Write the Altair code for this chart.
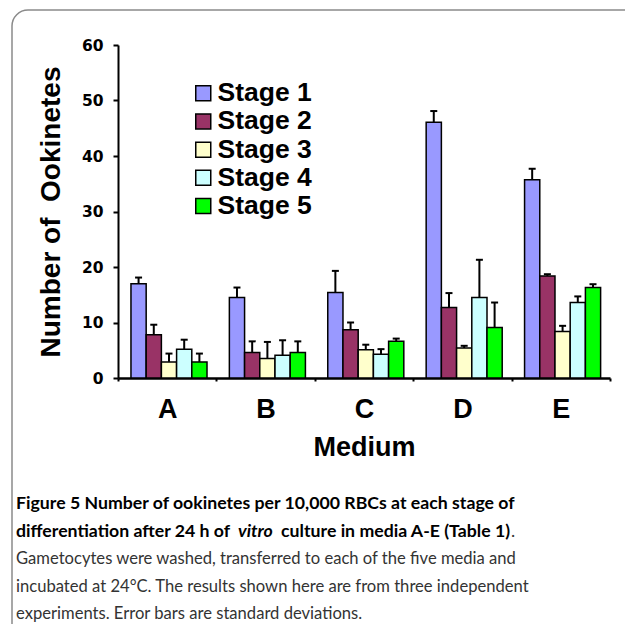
import altair as alt
import pandas as pd

media = ["A", "B", "C", "D", "E"]
stages = ["Stage 1", "Stage 2", "Stage 3", "Stage 4", "Stage 5"]
colors = ["#9999FF", "#993366", "#FFFFCC", "#CCFFFF", "#00FF00"]

stage1 = [17.0, 14.5, 15.4, 46.1, 35.7]
stage2 = [7.8, 4.6, 8.7, 12.7, 18.4]
stage3 = [2.9, 3.5, 5.1, 5.4, 8.4]
stage4 = [5.2, 4.1, 4.3, 14.5, 13.6]
stage5 = [2.9, 4.6, 6.6, 9.1, 16.3]

sd1 = [1.1, 1.8, 3.9, 2.0, 2.0]
sd2 = [1.8, 2.0, 1.3, 2.6, 0.3]
sd3 = [1.5, 3.0, 0.9, 0.4, 1.0]
sd4 = [1.7, 2.7, 0.9, 6.8, 1.1]
sd5 = [1.5, 2.0, 0.5, 4.5, 0.6]

caption_bold_1 = "Figure 5 Number of ookinetes per 10,000 RBCs at each stage of"
caption_bold_2a = "differentiation after 24 h of"
caption_bold_2b = "vitro"
caption_bold_2c = "culture in media A-E (Table 1)"
caption_plain_2d = "."
caption_plain = [
    "Gametocytes were washed, transferred to each of the five media and",
    "incubated at 24°C. The results shown here are from three independent",
    "experiments. Error bars are standard deviations.",
]

means = [stage1, stage2, stage3, stage4, stage5]
sds = [sd1, sd2, sd3, sd4, sd5]
rows = []
for s, m_list, sd_list in zip(stages, means, sds):
    for med, m, sd in zip(media, m_list, sd_list):
        rows.append({"Medium": med, "Stage": s, "Mean": m, "SD": sd})
df = pd.DataFrame(rows)

W, H = 492, 333

x_enc = alt.X(
    "Medium:N",
    sort=media,
    scale=alt.Scale(paddingInner=0, paddingOuter=0),
    axis=alt.Axis(
        title="Medium",
        titleFont="Liberation Sans", titleFontWeight="bold", titleFontSize=27,
        titleColor="black", titleBaseline="middle", titleY=69,
        labelFont="Liberation Sans", labelFontWeight="bold", labelFontSize=27,
        labelColor="black", labelPadding=15, labelAngle=0,
        domainColor="black", domainWidth=2.5, tickColor="black", tickWidth=2,
        tickSize=3, tickBand="extent", grid=False,
    ),
)
xoff_enc = alt.XOffset(
    "Stage:N", sort=stages,
    scale=alt.Scale(paddingInner=0, paddingOuter=0.735, align=0.58),
)
y_scale = alt.Scale(domain=[0, 60])

base = alt.Chart(df)

bars = base.mark_bar(stroke="black", strokeWidth=1.5).encode(
    x=x_enc,
    xOffset=xoff_enc,
    y=alt.Y(
        "Mean:Q",
        scale=y_scale,
        axis=alt.Axis(
            title="Number of\u00a0 Ookinetes",
            titleFont="Liberation Sans", titleFontWeight="bold", titleFontSize=28,
            titleColor="black", titleBaseline="middle", titleX=-67,
            values=[0, 10, 20, 30, 40, 50, 60],
            labelFont="DejaVu Sans", labelFontWeight="bold", labelFontSize=15.5,
            labelColor="black", labelPadding=10,
            domainColor="black", domainWidth=2, tickColor="black", tickWidth=2,
            tickSize=5, grid=False,
        ),
    ),
    fill=alt.Fill(
        "Stage:N",
        sort=stages,
        scale=alt.Scale(domain=stages, range=colors),
        legend=alt.Legend(
            title=None, orient="none", legendX=72, legendY=35, padding=0,
            symbolType="square", symbolSize=225, symbolStrokeColor="black",
            symbolStrokeWidth=1.5, symbolOpacity=1,
            labelFont="Liberation Sans", labelFontWeight="bold", labelFontSize=26.5,
            labelColor="black", labelOffset=1, rowPadding=1.2,
        ),
    ),
)

err_rule = base.transform_calculate(Upper="datum.Mean + datum.SD").mark_rule(
    color="black", strokeWidth=2
).encode(
    x=alt.X("Medium:N", sort=media),
    xOffset=alt.XOffset("Stage:N", sort=stages),
    y=alt.Y("Mean:Q"),
    y2=alt.Y2("Upper:Q"),
)

err_cap = base.transform_calculate(Upper="datum.Mean + datum.SD").mark_tick(
    color="black", thickness=2, size=7, opacity=1
).encode(
    x=alt.X("Medium:N", sort=media),
    xOffset=alt.XOffset("Stage:N", sort=stages),
    y=alt.Y("Upper:Q"),
)

frame = alt.Chart(alt.Data(values=[{"k": 1}])).mark_rect(
    fillOpacity=0, stroke="#8a8a8a", strokeWidth=1.5, cornerRadius=16
).encode(
    x=alt.value(-106), x2=alt.value(530), y=alt.value(-35), y2=alt.value(610)
)

def text_layer(txt, x, y, weight="bold", style="normal", color="black",
               align="left", size=17.7):
    return alt.Chart(alt.Data(values=[{"t": txt}])).mark_text(
        align=align, baseline="alphabetic", font="Lato", fontSize=size,
        fontWeight=weight, fontStyle=style, color=color,
    ).encode(text="t:N", x=alt.value(x), y=alt.value(y))

x0 = -102
gray = "#333333"
caps = [
    text_layer(caption_bold_1, x0, 464),
    text_layer(caption_bold_2a, x0, 491.5),
    text_layer(caption_bold_2b, 120, 491.5, style="italic"),
    text_layer(caption_bold_2c, 392, 491.5, align="right"),
    text_layer(caption_plain_2d, 393, 491.5, weight="normal", color=gray),
    text_layer(caption_plain[0], x0, 519, weight="normal", color=gray, size=16.6),
    text_layer(caption_plain[1], x0, 546.5, weight="normal", color=gray, size=16.6),
    text_layer(caption_plain[2], x0, 574, weight="normal", color=gray, size=16.6),
]

chart = alt.layer(frame, bars, err_rule, err_cap, *caps).properties(
    width=W, height=H,
    autosize=alt.AutoSizeParams(type="none"),
    padding={"left": 110, "top": 37, "right": 15, "bottom": 246},
).configure_view(stroke="transparent")

chart.save("out.html", embed_options={"renderer": "svg", "actions": False})
